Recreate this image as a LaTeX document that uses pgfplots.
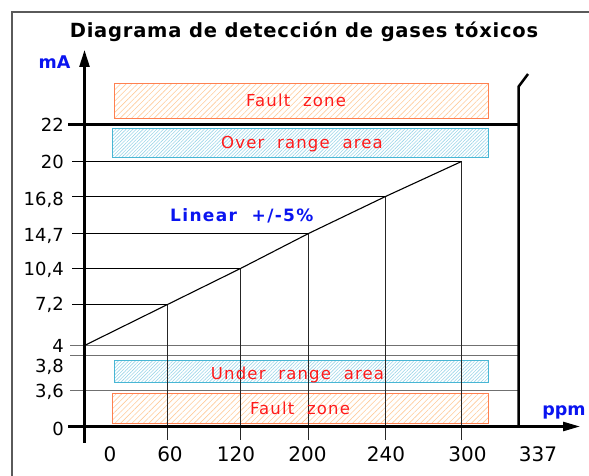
\documentclass[border=0pt]{standalone}
\usepackage{fontspec}
\setmainfont{DejaVu Sans}
\newfontfamily\spaced[LetterSpace=4]{DejaVu Sans}
\newfontfamily\spacedb[LetterSpace=8]{DejaVu Sans}
\newfontfamily\spacedr[LetterSpace=7]{DejaVu Sans}
\usepackage{pgfplots}
\pgfplotsset{compat=1.18}
\usepackage{pgfplotstable}
\usetikzlibrary{patterns.meta, arrows.meta}

\definecolor{faultline}{HTML}{FF8050}
\definecolor{faulthatch}{HTML}{FFCB9A}
\definecolor{rangeline}{HTML}{48B6D4}
\definecolor{rangehatch}{HTML}{9BD5E8}
\definecolor{txtred}{HTML}{FF1A1A}
\definecolor{txtblue}{HTML}{0A14F0}
\definecolor{gridgray}{HTML}{707070}
\definecolor{framegray}{HTML}{5A5A5A}

% ppm, mA : values;  X, Y : positions on the (non-linear) schematic scale
\pgfplotstableread{
ppm mA X Y
0 4 84.5 130.5
60 7.2 167.5 171.5
120 10.4 240.5 207.5
200 14.7 308.5 242.5
240 16.8 385.5 279.5
300 20 461.5 314.5
}\curve

\begin{document}
\begin{tikzpicture}
\begin{axis}[name=ax, at={(0,0)}, anchor=south west, scale only axis,
  width=589bp, height=476bp, xmin=0, xmax=589, ymin=0, ymax=476,
  clip=false, axis line style={draw=none}, major tick length=0pt, tick style={draw=none},
  xtick={110,170,236,307.5,386,467.5,538}, xticklabels={0,60,120,200,240,300,337},
  ytick={47,85,110,130,172,207.2,241,277,313.5,351},
  yticklabels={0,{3,6},{3,8},4,{7,2},{10,4},{14,7},{16,8},20,22},
  xticklabel style={font=\fontsize{20bp}{22bp}\selectfont, anchor=base, inner sep=0pt, yshift=15bp},
  yticklabel style={font=\fontsize{18bp}{20bp}\selectfont, anchor=base east, inner sep=0pt, xshift=64bp, yshift=-6.5bp},
]
% frame
\draw[framegray, line width=2bp] (axis cs:11.5,0) -- (axis cs:11.5,463.5) -- (axis cs:589,463.5);

% zones
\addplot[draw=faultline, line width=1.2bp, pattern={Lines[angle=45,distance=4bp,line width=0.6bp]}, pattern color=faulthatch]
  coordinates {(114.5,357.5)(488.5,357.5)(488.5,392.5)(114.5,392.5)} -- cycle;
\addplot[draw=rangeline, line width=1.2bp, pattern={Lines[angle=45,distance=2.4bp,line width=0.6bp]}, pattern color=rangehatch]
  coordinates {(112.5,318.5)(488.5,318.5)(488.5,347.5)(112.5,347.5)} -- cycle;
\addplot[draw=rangeline, line width=1.2bp, pattern={Lines[angle=45,distance=2.4bp,line width=0.6bp]}, pattern color=rangehatch]
  coordinates {(114.5,93.5)(488.5,93.5)(488.5,115.5)(114.5,115.5)} -- cycle;
\addplot[draw=faultline, line width=1.2bp, pattern={Lines[angle=45,distance=4bp,line width=0.6bp]}, pattern color=faulthatch]
  coordinates {(112.5,52.5)(488.5,52.5)(488.5,82.5)(112.5,82.5)} -- cycle;

% gray reference lines (4, 3.8/3.9, 3.6 mA)
\addplot[gridgray, line width=1bp] coordinates {(70,130.5)(518.5,130.5)};
\addplot[gridgray, line width=1bp] coordinates {(70,120.5)(518.5,120.5)};
\addplot[gridgray, line width=1bp] coordinates {(70,85.5)(518.5,85.5)};

% horizontal lines to the curve
\addplot[black, line width=1bp] coordinates {(72,171.5)(167.5,171.5)};
\addplot[black, line width=1bp] coordinates {(72,207.5)(240.5,207.5)};
\addplot[black, line width=1bp] coordinates {(72,242.5)(308.5,242.5)};
\addplot[black, line width=1bp] coordinates {(72,279.5)(385.5,279.5)};
\addplot[black, line width=1bp] coordinates {(72,314.5)(461.5,314.5)};
% vertical lines from the curve
\addplot[black!85, line width=1bp] coordinates {(167.5,171.5)(167.5,36)};
\addplot[black!85, line width=1bp] coordinates {(240.5,207.5)(240.5,36)};
\addplot[black!85, line width=1bp] coordinates {(308.5,242.5)(308.5,36)};
\addplot[black!85, line width=1bp] coordinates {(385.5,279.5)(385.5,36)};
\addplot[black!85, line width=1bp] coordinates {(461.5,314.5)(461.5,36)};

% linear curve
\addplot[black, line width=1.1bp] table[x=X, y=Y] {\curve};

% 22 mA line
\addplot[black, line width=2.5bp] coordinates {(68,351.5)(518.5,351.5)};

% axes
\draw[black, line width=2.5bp, -{Triangle[length=17bp,width=10bp]}] (axis cs:84.5,33) -- (axis cs:84.5,426);
\draw[black, line width=2.5bp, -{Triangle[length=17bp,width=9bp]}] (axis cs:68,49.5) -- (axis cs:580,49.5);
\draw[black, line width=2.5bp] (axis cs:518.5,49.5) -- (axis cs:518.5,389.3) -- (axis cs:528,402);

% texts
\node[anchor=base, font=\fontsize{19.5bp}{22bp}\selectfont\spaced\bfseries] at (axis cs:304,438) {Diagrama de detección de gases tóxicos};
\node[anchor=base, text=txtblue, font=\fontsize{17.5bp}{19bp}\selectfont\bfseries] at (axis cs:54.5,407) {mA};
\node[anchor=base, text=txtblue, font=\fontsize{17.5bp}{19bp}\selectfont\bfseries] at (axis cs:564,60) {ppm};
\node[anchor=base, text=txtblue, font=\fontsize{17bp}{19bp}\selectfont\spacedb\bfseries] at (axis cs:241.8,254.3) {Linear \ +/-5\%};
\node[anchor=base, text=txtred, font=\fontsize{16.5bp}{18bp}\selectfont\spacedr] at (axis cs:296,369.2) {Fault \ zone};
\node[anchor=base, text=txtred, font=\fontsize{16.5bp}{18bp}\selectfont\spacedr] at (axis cs:302,327.9) {Over \ range \ area};
\node[anchor=base, text=txtred, font=\fontsize{16.5bp}{18bp}\selectfont\spacedr] at (axis cs:297.5,96.9) {Under \ range \ area};
\node[anchor=base, text=txtred, font=\fontsize{16.5bp}{18bp}\selectfont\spacedr] at (axis cs:300,61.9) {Fault \ zone};
\end{axis}
\pgfresetboundingbox
\useasboundingbox (ax.south west) rectangle (ax.north east);
\end{tikzpicture}
\end{document}
